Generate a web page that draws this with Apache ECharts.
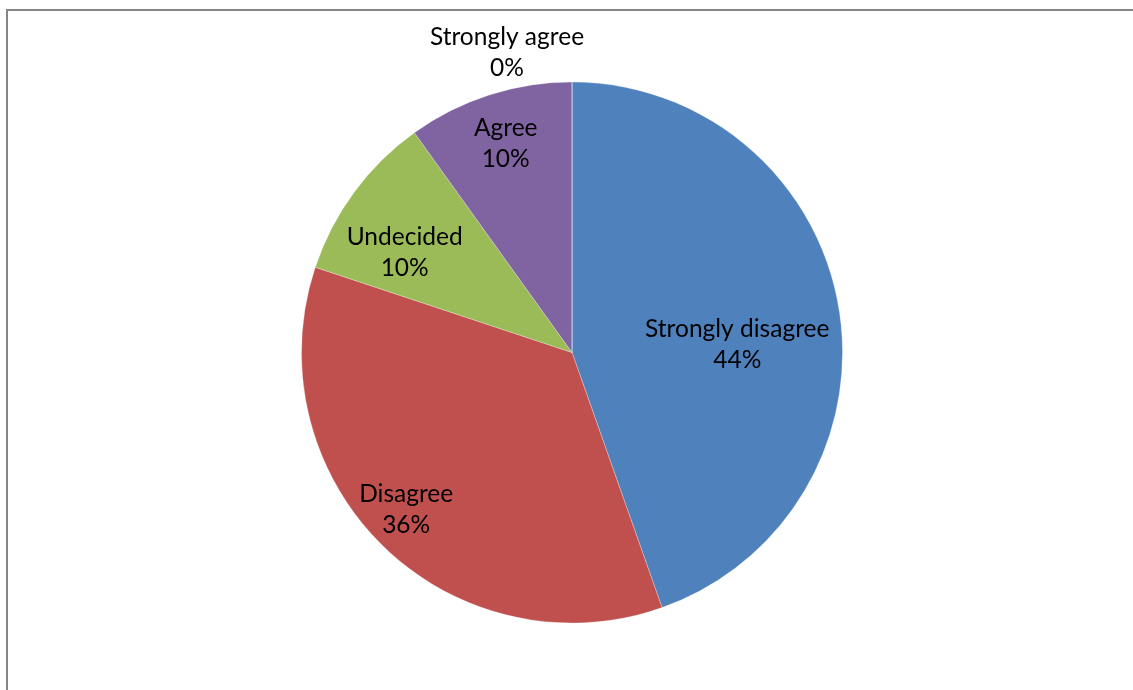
<!DOCTYPE html>
<html>
<head>
<meta charset="utf-8">
<script src="https://cdn.jsdelivr.net/npm/echarts@6/dist/echarts.min.js"></script>
<style>
  html, body { margin: 0; padding: 0; background: #fff; overflow: hidden; }
  #chart { position: absolute; left: 0; top: 0; width: 1133px; height: 690px; }
  #frame { position: absolute; left: 6px; top: 9px; width: 1200px; height: 800px;
           border-left: 2px solid #868686; border-top: 2px solid #868686; pointer-events: none; }
</style>
</head>
<body>
<div id="chart"></div>
<div id="frame"></div>
<script>
// Data
var categories = ['Strongly disagree', 'Disagree', 'Undecided', 'Agree', 'Strongly agree'];
var shares = [44.6, 35.5, 10.0, 9.9, 0];          // slice sizes as drawn
var pctLabels = ['44%', '36%', '10%', '10%', '0%']; // percentages as printed
var colors = ['#4F81BD', '#C0504D', '#9BBB59', '#8064A2', '#4BACC6'];

// label nudges (Excel best-fit placement)
var labelOffsets = [[29, 15], [-69, 58], [-56, -18], [-24, -77], [-65, -162]];

var chart = echarts.init(document.getElementById('chart'), null, { renderer: 'canvas' });

var data = categories.map(function (c, i) {
  return {
    name: c,
    value: shares[i],
    itemStyle: { color: colors[i] },
    label: { offset: labelOffsets[i] }
  };
});

chart.setOption({
  animation: false,
  backgroundColor: 'transparent',
  series: [{
    type: 'pie',
    center: [572, 352.5],
    radius: 270.5,
    startAngle: 90,
    clockwise: true,
    avoidLabelOverlap: false,
    minShowLabelAngle: 0,
    itemStyle: { borderColor: 'rgba(255,255,255,0.45)', borderWidth: 0.6 },
    label: {
      show: true,
      position: 'inside',
      color: '#000',
      fontFamily: 'Lato',
      fontSize: 24.5,
      lineHeight: 31,
      align: 'center',
      formatter: function (p) { return p.name + '\n' + pctLabels[p.dataIndex]; }
    },
    labelLine: { show: false },
    emphasis: { disabled: true },
    data: data
  }]
});
</script>
</body>
</html>
